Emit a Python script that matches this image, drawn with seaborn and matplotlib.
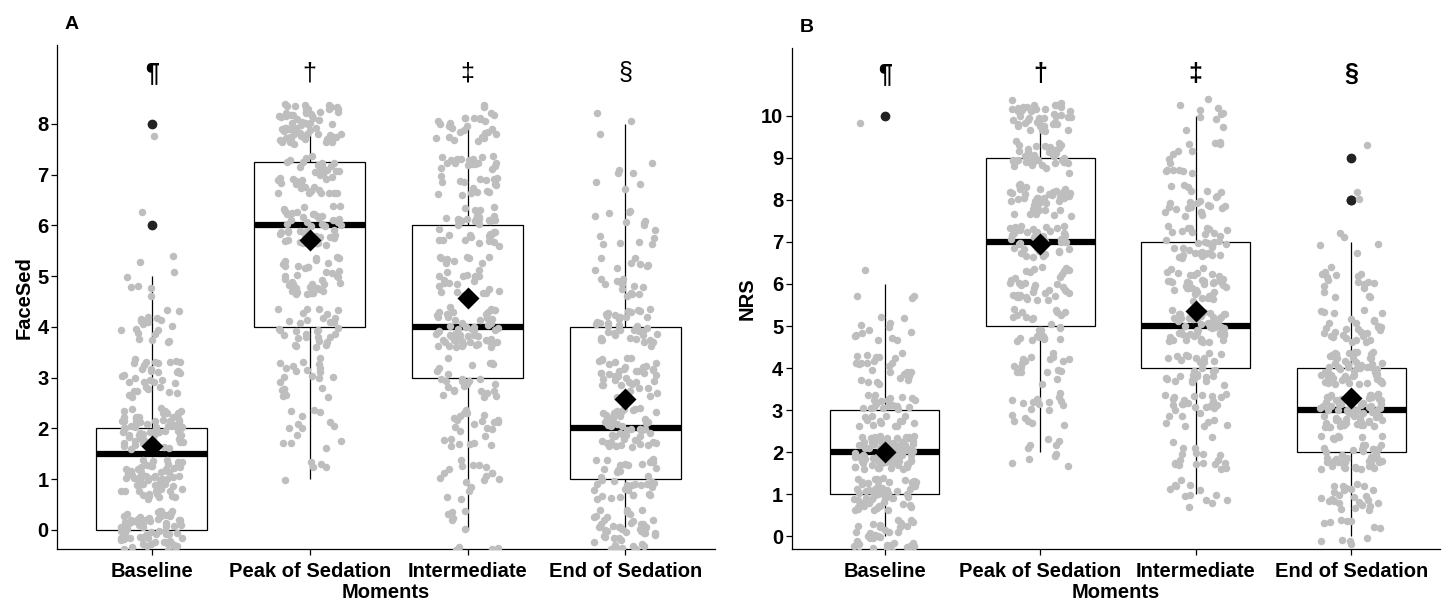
import numpy as np
import pandas as pd
import matplotlib
matplotlib.use('Agg')
import matplotlib.pyplot as plt
import seaborn as sns

moments = ['Baseline', 'Peak of Sedation', 'Intermediate', 'End of Sedation']
symbols = ['\u00b6', '\u2020', '\u2021', '\u00a7']

# FaceSed scores 0..8, number of patients per score at each moment
facesed_scores = list(range(9))
facesed_baseline = [70, 64, 70, 34, 20, 8, 1, 0, 1]
facesed_peak = [0, 5, 14, 22, 32, 38, 50, 40, 67]
facesed_inter = [10, 18, 24, 26, 59, 30, 38, 35, 28]
facesed_end = [48, 40, 55, 40, 40, 20, 15, 7, 3]

# NRS scores 0..10
nrs_scores = list(range(11))
nrs_baseline = [40, 65, 85, 35, 25, 13, 4, 0, 0, 0, 1]
nrs_peak = [0, 0, 10, 18, 18, 25, 35, 40, 40, 40, 42]
nrs_inter = [0, 13, 20, 30, 30, 50, 40, 35, 25, 15, 10]
nrs_end = [12, 25, 45, 70, 60, 30, 18, 5, 2, 1, 0]


def long_table(scores, count_lists, seed):
    rows = []
    for m, counts in zip(moments, count_lists):
        vals = np.repeat(scores, counts)
        for v in vals:
            rows.append((m, v))
    df = pd.DataFrame(rows, columns=['Moments', 'score'])
    rng = np.random.default_rng(seed)
    # vertical jitter, like geom_jitter(height=0.4)
    df['score_jit'] = df['score'] + rng.uniform(-0.4, 0.4, len(df))
    return df


df_a = long_table(facesed_scores, [facesed_baseline, facesed_peak, facesed_inter, facesed_end], 3)
df_b = long_table(nrs_scores, [nrs_baseline, nrs_peak, nrs_inter, nrs_end], 7)

sns.set_style('ticks')
plt.rcParams['font.family'] = ['Liberation Sans', 'DejaVu Sans']
plt.rcParams['font.weight'] = 'bold'
plt.rcParams['text.color'] = 'black'
plt.rcParams['axes.labelcolor'] = 'black'
plt.rcParams['xtick.color'] = 'black'
plt.rcParams['ytick.color'] = 'black'
plt.rcParams['axes.edgecolor'] = 'black'
np.random.seed(11)

fig = plt.figure(figsize=(14.47, 6.01), dpi=100)
ax_a = fig.add_axes([0.0394, 0.0865, 0.455, 0.838])
ax_b = fig.add_axes([0.547, 0.0865, 0.448, 0.833])


def panel(ax, df, ylabel, ticks, ylim, sym_y, letter, sym_weights):
    sns.boxplot(data=df, x='Moments', y='score', order=moments, ax=ax,
                width=0.7, color='white', linecolor='black', linewidth=0.9,
                showcaps=False,
                flierprops=dict(marker='o', markerfacecolor='#222222',
                                markeredgecolor='#222222', markersize=6),
                medianprops=dict(color='black', linewidth=4.5))
    sns.stripplot(data=df, x='Moments', y='score_jit', order=moments, ax=ax,
                  jitter=0.2, color='#bebebe', size=5.4, linewidth=0,
                  alpha=1, zorder=3)
    sns.pointplot(data=df, x='Moments', y='score', order=moments, ax=ax,
                  estimator='mean', errorbar=None, linestyle='none',
                  markers='D', color='black', markersize=9.5, zorder=5)
    for i, s in enumerate(symbols):
        ax.text(i, sym_y, s, ha='center', va='center', fontsize=18,
                fontweight=sym_weights[i])
    ax.set_xlim(-0.6, 3.57)
    ax.set_ylim(*ylim)
    ax.set_yticks(ticks)
    ax.set_yticklabels([str(t) for t in ticks])
    ax.set_ylabel(ylabel, fontsize=14.5, fontweight='bold', labelpad=3)
    ax.set_xlabel('Moments', fontsize=14.5, fontweight='bold', labelpad=2)
    ax.tick_params(axis='both', labelsize=14.5, length=4, width=0.9,
                   color='black', pad=2)
    ax.tick_params(axis='x', pad=5)
    for lab in ax.get_xticklabels() + ax.get_yticklabels():
        lab.set_fontweight('bold')
    sns.despine(ax=ax)
    ax.spines['left'].set_linewidth(0.9)
    ax.spines['bottom'].set_linewidth(0.9)
    ax.text(0.012, 1.025, letter, transform=ax.transAxes, fontsize=14,
            fontweight='bold', ha='left', va='bottom')


panel(ax_a, df_a, 'FaceSed', list(range(9)), (-0.38, 9.55), 9.0, 'A',
      ['bold', 'normal', 'normal', 'normal'])
panel(ax_b, df_b, 'NRS', list(range(11)), (-0.3, 11.6), 11.0, 'B',
      ['bold', 'bold', 'bold', 'bold'])

fig.savefig('out.png', dpi=100)
